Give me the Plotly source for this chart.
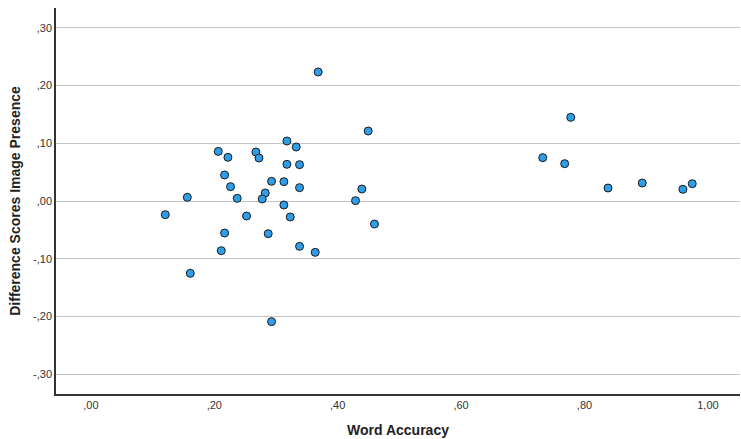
import plotly.graph_objects as go

word_accuracy = [0.3684, 0.4494, 0.3177, 0.3328, 0.2065, 0.2221, 0.2675, 0.2724, 0.3177, 0.3382,
                 0.2167, 0.2264, 0.2928, 0.3128, 0.3382, 0.4392, 0.1563, 0.2372, 0.2826, 0.2777,
                 0.4289, 0.3128, 0.1206, 0.2523, 0.3231, 0.4596, 0.2167, 0.2874, 0.2113, 0.3382,
                 0.3636, 0.1611, 0.2928, 0.7777, 0.7323, 0.7679, 0.8381, 0.8936, 0.9595, 0.9746]
diff_scores = [0.2236, 0.1213, 0.1040, 0.0936, 0.0860, 0.0757, 0.0849, 0.0745, 0.0636, 0.0630,
               0.0451, 0.0248, 0.0341, 0.0335, 0.0231, 0.0208, 0.0064, 0.0046, 0.0139, 0.0035,
               0.0006, -0.0069, -0.0237, -0.0260, -0.0277, -0.0399, -0.0555, -0.0566, -0.0861, -0.0786,
               -0.0890, -0.1253, -0.2091, 0.1450, 0.0751, 0.0647, 0.0225, 0.0312, 0.0202, 0.0300]

x_tickvals = [0.0, 0.2, 0.4, 0.6, 0.8, 1.0]
x_ticktext = [",00", ",20", ",40", ",60", ",80", "1,00"]
y_tickvals = [-0.3, -0.2, -0.1, 0.0, 0.1, 0.2, 0.3]
y_ticktext = ["-,30", "-,20", "-,10", ",00", ",10", ",20", ",30"]

fig = go.Figure()
fig.add_trace(go.Scatter(
    x=word_accuracy, y=diff_scores, mode="markers",
    marker=dict(size=8, color="#2E9EE8", line=dict(color="#1a1a1a", width=1)),
    showlegend=False, hoverinfo="skip"))

font_family = "Liberation Sans, Arial, sans-serif"
fig.update_layout(
    width=741, height=439,
    margin=dict(l=56, r=1, t=8, b=45, autoexpand=False),
    paper_bgcolor="white", plot_bgcolor="white",
    font=dict(family=font_family, color="#333333", size=11),
    xaxis=dict(range=[-0.0565, 1.052], tickvals=x_tickvals, ticktext=x_ticktext,
               showgrid=False, zeroline=False, showline=True, linecolor="#333333", linewidth=1.5,
               ticks="", tickfont=dict(size=11, color="#333333"), automargin=False,
               title=dict(text="<b>Word Accuracy</b>", font=dict(size=14, color="#222222"), standoff=15)),
    yaxis=dict(range=[-0.3345, 0.3345], tickvals=y_tickvals, ticktext=y_ticktext,
               showgrid=True, gridcolor="#C4C4C4", gridwidth=1, zeroline=False,
               showline=True, linecolor="#333333", linewidth=1.5,
               ticks="", tickfont=dict(size=11, color="#333333"), automargin=False,
               title=dict(text="<b>Difference Scores Image Presence</b>", font=dict(size=14, color="#222222"), standoff=9)),
)

fig.write_html("out.html", config={"displayModeBar": False},
               post_script="document.body.style.margin='0';")
